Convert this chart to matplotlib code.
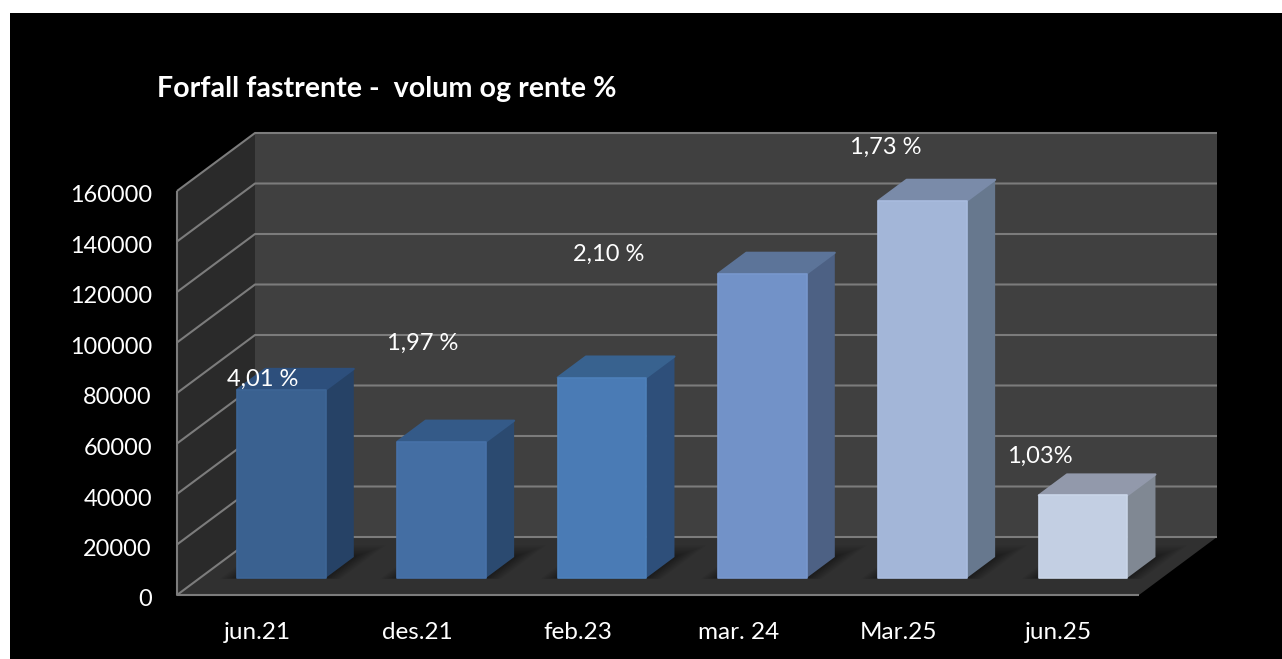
import matplotlib
matplotlib.use('Agg')
import matplotlib.pyplot as plt
from matplotlib.patches import Polygon, Rectangle
from matplotlib.transforms import ScaledTranslation

# Data
kategorier = ['jun.21', 'des.21', 'feb.23', 'mar. 24', 'Mar.25', 'jun.25']
volum = [74500, 54000, 79400, 120500, 149400, 32700]
rente = ['4,01 %', '1,97 %', '2,10 %', None, '1,73 %', '1,03%']
y_ticks = [0, 20000, 40000, 60000, 80000, 100000, 120000, 140000, 160000]

# Colours per bar: front, top, side
farge_front = ['#3a6190', '#446ea3', '#4a7bb5', '#7292c8', '#a3b6d8', '#c3cfe3']
farge_topp = ['#2d4f7c', '#345a88', '#38628f', '#5c7499', '#7a8ba9', '#9299ab']
farge_side = ['#264266', '#2b4a70', '#2e4f7a', '#4d6184', '#67788e', '#808893']
farge_kant = ['#3d6596', '#4771a8', '#4d80ba', '#7897cd', '#a9bcdf', '#cad6e9']

# Offset in pixels from the top of each bar to its label
etikett_off = [(-19, 11), (-19, 98), (7, 123), None, (-37, 53), (-43, 39)]

BREDDE, HOYDE = 1282, 659
X0, X1, Y0, Y1 = 177, 1139, 595, 191
DX = 78 / ((X1 - X0) / 6)
DY = 58 * 160000 / (Y0 - Y1)


def pr(x, v, d):
    # oblique projection: category, value, depth -> axes data
    return (x + DX * d, v + DY * d)


plt.rcParams['font.family'] = ['Lato', 'DejaVu Sans']
fig = plt.figure(figsize=(BREDDE / 100, HOYDE / 100), dpi=100, facecolor='white')
fig.patches.append(Rectangle((10 / BREDDE, 0), 1 - 10 / BREDDE, 1 - 13 / HOYDE,
                             transform=fig.transFigure, fc='black', ec='none', zorder=-5))

ax = fig.add_axes([X0 / BREDDE, 1 - Y0 / HOYDE, (X1 - X0) / BREDDE, (Y0 - Y1) / HOYDE])
ax.patch.set_visible(False)
ax.set_xlim(0, 6)
ax.set_ylim(0, 160000)
for s in ax.spines.values():
    s.set_visible(False)

n = len(kategorier)
vmax = y_ticks[-1]


def flate(punkter, farge, z, **kw):
    ax.add_patch(Polygon(punkter, closed=True, fc=farge, ec=kw.pop('ec', 'none'),
                         clip_on=False, zorder=z, **kw))


# Walls and floor
flate([pr(0, 0, 1), pr(n, 0, 1), pr(n, vmax, 1), pr(0, vmax, 1)], '#404040', 1)
flate([pr(0, 0, 0), pr(0, 0, 1), pr(0, vmax, 1), pr(0, vmax, 0)], '#2a2a2a', 1)
flate([pr(0, 0, 0), pr(n, 0, 0), pr(n, 0, 1), pr(0, 0, 1)], '#303030', 1)

# Gridlines
linje = dict(color='#7c7c7c', lw=1.5, clip_on=False, zorder=2, solid_capstyle='butt')
for v in y_ticks:
    p = [pr(0, v, 0), pr(0, v, 1), pr(n, v, 1)]
    ax.plot([q[0] for q in p], [q[1] for q in p], **linje)
ax.plot([0, 0, n], [vmax, 0, 0], **linje)

# Bars
B_VENSTRE, B_BREDDE = 0.232, 0.552
D_FRONT, D_BAK = 17 / 58, 38 / 58
for i, v in enumerate(volum):
    a, b = i + B_VENSTRE, i + B_VENSTRE + B_BREDDE

    # soft shadow on the floor
    for k in range(10):
        e = 0.010 * (10 - k)
        flate([pr(a - e, 0, D_FRONT - 0.01), pr(b + e, 0, D_FRONT - 0.01),
               pr(b + e, 0, D_BAK + 0.02 * (10 - k)), pr(a - e, 0, D_BAK + 0.02 * (10 - k))],
              'black', 3, alpha=0.04)

    flate([pr(b, 0, D_FRONT), pr(b, 0, D_BAK), pr(b, v, D_BAK), pr(b, v, D_FRONT)],
          farge_side[i], 4)
    flate([pr(a, v, D_FRONT), pr(b, v, D_FRONT), pr(b, v, D_BAK), pr(a, v, D_BAK)],
          farge_topp[i], 4, ec=farge_topp[i], lw=1.5, joinstyle='round')
    flate([pr(a, 0, D_FRONT), pr(b, 0, D_FRONT), pr(b, v, D_FRONT), pr(a, v, D_FRONT)],
          farge_front[i], 5, ec=farge_kant[i], lw=1.2, joinstyle='round')

    if rente[i] is not None:
        ax.annotate(rente[i], xy=pr((a + b) / 2, v, D_FRONT), xytext=etikett_off[i],
                    textcoords='offset pixels', ha='center', va='center',
                    color='white', fontsize=17, zorder=8, annotation_clip=False)

# Axis labels
ax.set_xticks([i + 0.5 for i in range(n)], kategorier)
ax.set_yticks(y_ticks, [str(t) for t in y_ticks])
ax.tick_params(axis='x', length=0, pad=19.5, labelcolor='white', labelsize=17.5)
ax.tick_params(axis='y', length=0, pad=18, labelcolor='white', labelsize=16.9)
for lab in ax.get_yticklabels():
    lab.set_transform(lab.get_transform() + ScaledTranslation(0, -3 / 100, fig.dpi_scale_trans))

fig.text(157 / BREDDE, 1 - 88.5 / HOYDE, 'Forfall fastrente -  volum og rente %',
         color='white', fontsize=20.6, fontweight='bold', ha='left', va='center')

fig.savefig('out.png', dpi=100, facecolor='white')
